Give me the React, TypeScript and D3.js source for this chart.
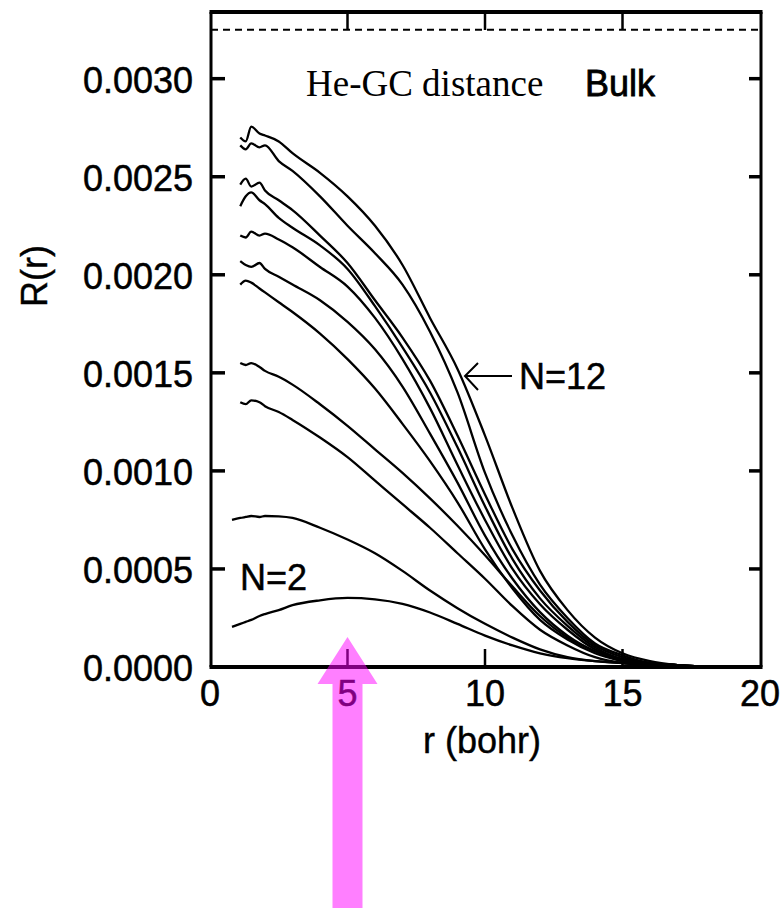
import React from "react";
import * as d3 from "d3";

const W = 782;
const H = 908;

// radial grid (bohr)
const rGrid = [0.8, 1.1, 1.3, 1.5, 1.8, 2, 2.5, 3, 4, 5, 6, 7, 8, 9, 10, 11, 12, 13, 14, 15, 16, 17, 18];

const n12 = [null, 0.0027, 0.00268, 0.002755, 0.00272, 0.00271, 0.00268, 0.00262, 0.00252, 0.0024, 0.00225, 0.00205, 0.00178, 0.00152, 0.00118, 0.00081, 0.00049, 0.00029, 0.00015, 0.00007, 0.00003, 0.00001, 0];
const n11 = [null, 0.00266, 0.00264, 0.00267, 0.00265, 0.00266, 0.00258, 0.00253, 0.0024, 0.00225, 0.00211, 0.00195, 0.00171, 0.0014, 0.00099, 0.00067, 0.00042, 0.00025, 0.00012, 0.00006, 0.00002, 0.00001, 0];
const n10 = [null, 0.00246, 0.00249, 0.00245, 0.00247, 0.00243, 0.00238, 0.00233, 0.0022, 0.00206, 0.00187, 0.00168, 0.00146, 0.00118, 0.00088, 0.0006, 0.00039, 0.00023, 0.00011, 0.00005, 0.00002, 0.00001, 0];
const n9 = [null, 0.00235, 0.0024, 0.00242, 0.00238, 0.00236, 0.00229, 0.00224, 0.00215, 0.00203, 0.00184, 0.00163, 0.0014, 0.00112, 0.00082, 0.00055, 0.00035, 0.00021, 0.0001, 0.00004, 0.00002, 0.00001, 0];
const n8 = [null, 0.0022, 0.00219, 0.00222, 0.0022, 0.00221, 0.00218, 0.00214, 0.00204, 0.00194, 0.00178, 0.00157, 0.00132, 0.00103, 0.00075, 0.0005, 0.00032, 0.00019, 0.00009, 0.00004, 0.00002, 0.00001, 0];
const n7 = [null, 0.00207, 0.00205, 0.00204, 0.00206, 0.00203, 0.00199, 0.00195, 0.00187, 0.00176, 0.00162, 0.00143, 0.00119, 0.00094, 0.00067, 0.00045, 0.00028, 0.00016, 0.00008, 0.00003, 0.00001, 0.000005, 0];
const n6 = [null, 0.00195, 0.00197, 0.00196, 0.00193, 0.00191, 0.00186, 0.00181, 0.0017, 0.00157, 0.00142, 0.00124, 0.00105, 0.00084, 0.0006, 0.0004, 0.00024, 0.00014, 0.00007, 0.00003, 0.00001, 0.000005, 0];
const n5 = [null, 0.00155, 0.00154, 0.00155, 0.00153, 0.00151, 0.00148, 0.00144, 0.00134, 0.00123, 0.00111, 0.00099, 0.00086, 0.00072, 0.00057, 0.00041, 0.00026, 0.00015, 0.00008, 0.00003, 0.00001, 0.000005, 0];
const n4 = [null, 0.00135, 0.00134, 0.00136, 0.00135, 0.00133, 0.0013, 0.00126, 0.00117, 0.00107, 0.00095, 0.00083, 0.00071, 0.00058, 0.00045, 0.00031, 0.00019, 0.00011, 0.00005, 0.00002, 0.00001, 0.000003, 0];
const n3 = [0.00075, 0.00076, 0.000765, 0.00077, 0.000765, 0.00077, 0.000768, 0.00076, 0.00071, 0.00065, 0.00058, 0.00049, 0.00039, 0.0003, 0.00022, 0.00015, 0.00009, 0.00005, 0.00003, 0.00002, 0.00001, 0.000005, 0];
const n2 = [0.000205, 0.00022, 0.00023, 0.00024, 0.00026, 0.00027, 0.00029, 0.000315, 0.00034, 0.000352, 0.000345, 0.000322, 0.000278, 0.00022, 0.00016, 0.00011, 0.00007, 0.000045, 0.00003, 0.00002, 0.00001, 0.000005, 0];

const seriesList = [n2, n3, n4, n5, n6, n7, n8, n9, n10, n11, n12];

const xTicks = [0, 5, 10, 15, 20];
const yTicks = [0, 0.0005, 0.001, 0.0015, 0.002, 0.0025, 0.003];
const yTickLabels = ["0.0000", "0.0005", "0.0010", "0.0015", "0.0020", "0.0025", "0.0030"];
const bulkValue = 0.00325;
const arrowR = 5;

const xScale = d3.scaleLinear().domain([0, 20]).range([210, 760]);
const yScale = d3.scaleLinear().domain([0, 0.00334]).range([667, 12]);

const sans = "'Liberation Sans', Arial, Helvetica, sans-serif";
const serif = "'Liberation Serif', 'Times New Roman', serif";

export default function App() {
  const line = d3
    .line<number | null>()
    .defined((d) => d !== null)
    .x((_, i) => xScale(rGrid[i]))
    .y((d) => yScale(d as number))
    .curve(d3.curveMonotoneX);

  const left = 211;
  const right = 761;
  const top = yScale(0.00334);
  const bottom = yScale(0);

  const ax = xScale(arrowR);
  const tipY = 637;
  const headBaseY = 684;

  return (
    <svg
      width={W}
      height={H}
      viewBox={`0 0 ${W} ${H}`}
      style={{ position: "absolute", left: 0, top: 0, background: "#fff" }}
    >
      <rect x={0} y={0} width={W} height={H} fill="#fff" />
      {/* dashed bulk line */}
      <line
        x1={left}
        x2={right}
        y1={yScale(bulkValue)}
        y2={yScale(bulkValue)}
        stroke="#000"
        strokeWidth={2}
        strokeDasharray="7,5"
      />
      {/* curves */}
      {seriesList.map((s, i) => (
        <path key={i} d={line(s) || ""} fill="none" stroke="#000" strokeWidth={2.3} strokeLinejoin="round" />
      ))}
      {/* frame */}
      <line x1={left} x2={left} y1={top} y2={bottom} stroke="#000" strokeWidth={3} />
      <line x1={right} x2={right} y1={top} y2={bottom} stroke="#000" strokeWidth={3} />
      <line x1={left - 1.5} x2={right + 1.5} y1={top} y2={top} stroke="#000" strokeWidth={4} />
      <line x1={left - 1.5} x2={right + 1.5} y1={bottom} y2={bottom} stroke="#000" strokeWidth={4} />
      {/* y ticks */}
      {yTicks.slice(1).map((t) => (
        <g key={t}>
          <line x1={left} x2={left + 14} y1={yScale(t)} y2={yScale(t)} stroke="#000" strokeWidth={3.5} />
          <line x1={right} x2={right - 12} y1={yScale(t)} y2={yScale(t)} stroke="#000" strokeWidth={3.5} />
        </g>
      ))}
      {/* x ticks */}
      {xTicks.slice(1, -1).map((t) => (
        <g key={t}>
          <line x1={xScale(t)} x2={xScale(t)} y1={bottom} y2={bottom - 18} stroke="#000" strokeWidth={2.5} />
          <line x1={xScale(t)} x2={xScale(t)} y1={top} y2={top + 18} stroke="#000" strokeWidth={2.5} />
        </g>
      ))}
      {/* y tick labels */}
      {yTicks.map((t, i) => (
        <text
          key={t}
          x={193}
          y={yScale(t) + 14}
          textAnchor="end"
          fontFamily={sans}
          fontSize={36}
          fill="#000"
          stroke="#000"
          strokeWidth={0.5}
        >
          {yTickLabels[i]}
        </text>
      ))}
      {/* x tick labels */}
      {xTicks.map((t) => (
        <text
          key={t}
          x={xScale(t)}
          y={706}
          textAnchor="middle"
          fontFamily={sans}
          fontSize={36}
          fill="#000"
          stroke="#000"
          strokeWidth={0.5}
        >
          {t}
        </text>
      ))}
      {/* axis titles */}
      <text x={482} y={753} textAnchor="middle" fontFamily={sans} fontSize={36} fill="#000" stroke="#000" strokeWidth={0.4}>
        r (bohr)
      </text>
      <text
        transform={`translate(47,276) rotate(-90)`}
        textAnchor="middle"
        fontFamily={sans}
        fontSize={36}
        fill="#000"
        stroke="#000"
        strokeWidth={0.4}
      >
        R(r)
      </text>
      {/* annotations */}
      <text x={306} y={96} fontFamily={serif} fontSize={37} fill="#000">
        He-GC distance
      </text>
      <text x={585} y={96} fontFamily={sans} fontSize={36} fill="#000" stroke="#000" strokeWidth={0.8}>
        Bulk
      </text>
      <text x={519} y={389} fontFamily={sans} fontSize={36} fill="#000" stroke="#000" strokeWidth={0.5}>
        N=12
      </text>
      <line x1={466} x2={512} y1={376} y2={376} stroke="#000" strokeWidth={2} />
      <polyline points="478,363 465,376 478,390" fill="none" stroke="#000" strokeWidth={2} />
      <text x={240} y={590} fontFamily={sans} fontSize={36} fill="#000" stroke="#000" strokeWidth={0.5}>
        N=2
      </text>
      {/* pink arrow */}
      <path
        d={`M${ax},${tipY} L${ax + 30},${headBaseY} L${ax + 15},${headBaseY} L${ax + 15},${H} L${ax - 15},${H} L${ax - 15},${headBaseY} L${ax - 30},${headBaseY} Z`}
        fill="#ff00ff"
        fillOpacity={0.5}
      />
    </svg>
  );
}
